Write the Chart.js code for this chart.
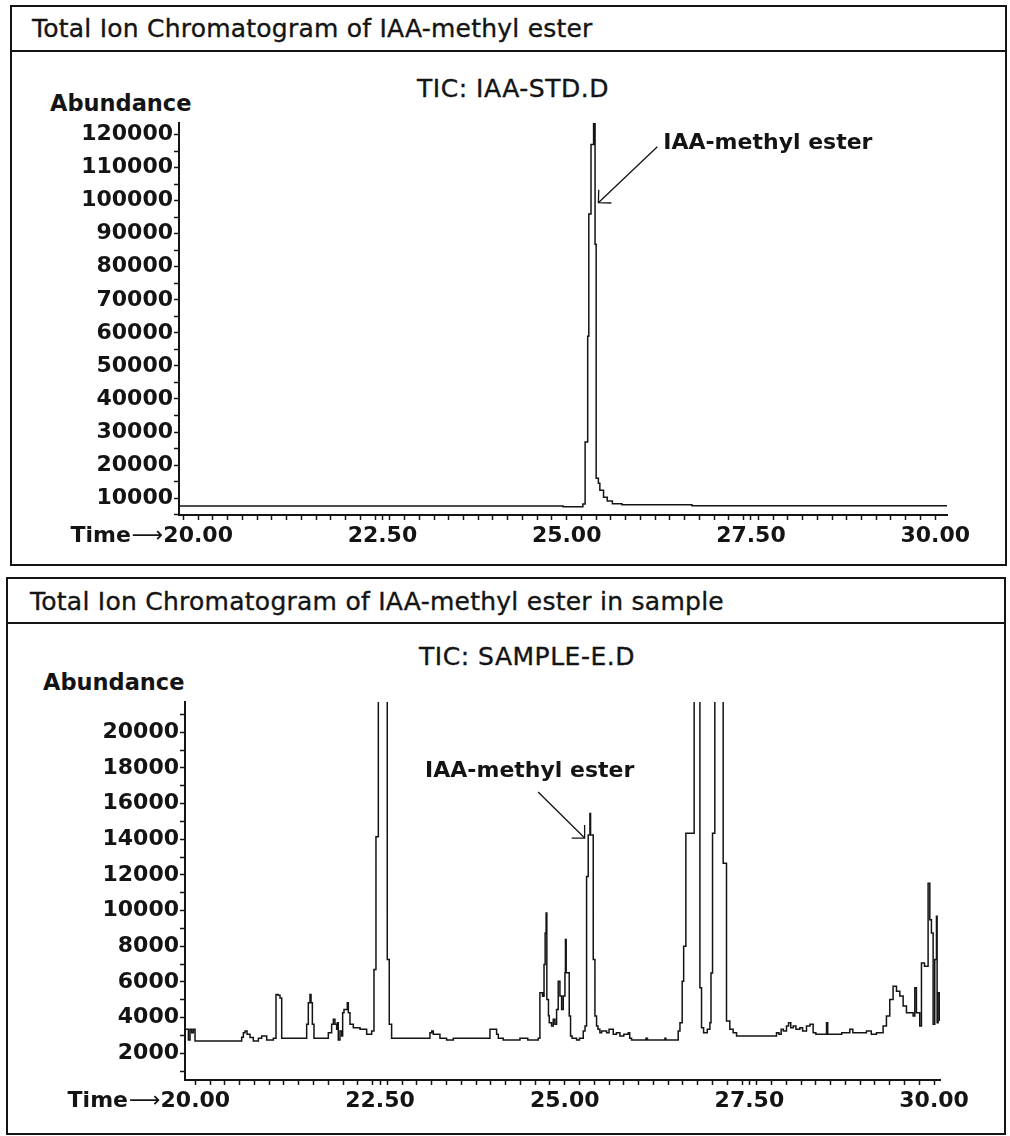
<!DOCTYPE html>
<html><head><meta charset="utf-8">
<script src="https://cdn.jsdelivr.net/npm/chart.js@4/dist/chart.umd.min.js"></script>
<style>
html,body{margin:0;padding:0;background:#fff;}
#page{position:relative;width:1010px;height:1136px;overflow:hidden;background:#fff;}
.panel{position:absolute;box-sizing:border-box;border:2px solid #141414;}
.tbar{position:absolute;left:0;right:0;top:0;box-sizing:border-box;border-bottom:2px solid #141414;}
.txt{position:absolute;white-space:nowrap;color:#141414;line-height:1;font-family:"DejaVu Sans";}
.med{-webkit-text-stroke:0.35px #141414;}
canvas{position:absolute;}
</style></head>
<body><div id="page">
<div class="panel" style="left:10px;top:5px;width:997px;height:561px;"><div class="tbar" style="height:45px"></div></div>
<div class="panel" style="left:6px;top:577px;width:1000px;height:558px;"><div class="tbar" style="height:45px"></div></div>
<div class="txt med" id="t1" style="left:32px;top:16px;font-size:25px;letter-spacing:0.22px;"></div>
<div class="txt med" id="s1" style="left:513px;top:76px;font-size:25px;letter-spacing:0.5px;transform:translateX(-50%);"></div>
<div class="txt" id="a1" style="left:50px;top:92px;font-size:22.5px;font-weight:bold;"></div>
<div class="txt med" id="t2" style="left:30px;top:589px;font-size:25px;letter-spacing:0.25px;"></div>
<div class="txt med" id="s2" style="left:527px;top:644px;font-size:25px;letter-spacing:0.5px;transform:translateX(-50%);"></div>
<div class="txt" id="a2" style="left:43px;top:671px;font-size:22.5px;font-weight:bold;"></div>
<canvas id="c1" width="993" height="512" style="left:12px;top:52px;"></canvas>
<canvas id="c2" width="996" height="510" style="left:8px;top:624px;"></canvas>
</div>
<script>
// ---------- data ----------
const panelTitles = ["Total Ion Chromatogram of IAA-methyl ester", "Total Ion Chromatogram of IAA-methyl ester in sample"];
const ticTitles = ["TIC: IAA-STD.D", "TIC: SAMPLE-E.D"];
const yAxisName = "Abundance";
const xAxisName = "Time";
const peakName = "IAA-methyl ester";

const xLabelValues = [20, 22.5, 25, 27.5, 30];
const stdYLabelValues = [10000,20000,30000,40000,50000,60000,70000,80000,90000,100000,110000,120000];
const sampleYLabelValues = [2000,4000,6000,8000,10000,12000,14000,16000,18000,20000];

// standard (IAA-STD.D): retention time (min) and abundance
const stdTime = [19.74, 24.95, 25.22, 25.25, 25.285, 25.30, 25.33, 25.365, 25.385, 25.40, 25.43, 25.45, 25.50, 25.55, 25.62, 25.75, 26.70, 30.16];
const stdAbund = [7600, 7400, 8200, 27000, 59000, 96000, 117000, 123500, 86800, 16000, 14500, 12400, 10300, 9100, 8300, 8000, 7700, 7700];

// sample (SAMPLE-E.D)
const sampleTime = [19.874,19.906,19.928,19.951,19.973,19.996,20.627,20.650,20.673,20.700,20.740,20.785,20.853,20.898,20.966,21.056,21.092,21.120,21.146,21.169,
 21.507,21.529,21.552,21.566,21.584,21.606,21.800,21.845,21.868,21.890,21.913,21.922,21.935,21.958,21.981,21.994,22.012,22.057,22.071,22.093,22.138,22.229,22.319,22.387,
 22.418,22.445,22.477,22.598,22.625,22.657,23.176,23.200,23.221,23.311,23.401,23.492,23.988,24.078,24.101,24.168,24.394,24.50,24.642,
 24.664,24.700,24.720,24.735,24.748,24.758,24.780,24.791,24.822,24.845,24.867,24.890,24.912,24.935,24.958,24.980,25.003,25.010,25.020,25.061,25.079,25.100,25.161,25.200,25.251,25.275,
 25.296,25.318,25.341,25.350,25.386,25.409,25.431,25.45,25.476,25.50,25.567,25.60,25.657,25.70,25.747,25.80,25.860,25.880,25.905,26.10,26.12,26.356,26.37,
 26.536,26.560,26.590,26.610,26.640,26.752,26.830,26.852,26.880,26.930,26.965,26.980,27.001,27.032,27.145,27.190,27.235,27.280,27.326,
 27.867,27.900,27.930,27.960,28.002,28.030,28.060,28.093,28.130,28.183,28.220,28.273,28.320,28.363,28.400,28.544,28.560,28.75,28.859,28.90,29.085,29.15,29.22,
 29.310,29.355,29.400,29.445,29.491,29.536,29.581,29.626,29.716,29.739,29.761,29.806,29.829,29.870,29.919,29.942,29.964,29.987,30.009,30.032,30.041,30.055,30.077];
const sampleAbund = [3340,2745,3340,3150,3340,2689,2900,3150,3248,3062,2880,2689,2838,2969,2745,2838,5300,5250,5100,2838,
 3621,4832,5298,4832,3621,2838,3155,3621,3901,3621,3342,3714,2745,3248,2969,4273,4460,4832,4273,3621,3435,3342,3062,3248,
 6696,14149,40000,7255,3621,2838,3155,3248,3062,2838,2745,2838,3342,3062,2838,2745,2838,2745,2838,
 5391,5200,6975,8745,9863,5019,4100,3714,3528,3901,3621,4460,6043,5205,4460,5205,6509,8373,6509,4087,2969,2838,2745,2838,3248,3528,
 11913,14242,15453,14242,7255,4087,3528,3342,3155,3248,3155,3342,3062,3155,2969,3062,3155,2838,2745,2838,2745,2838,2745,
 3248,3714,6043,8000,14335,40000,5671,3435,3155,3342,3714,6500,14335,40000,12658,3807,3342,3155,2969,
 3155,3062,3342,3248,3528,3714,3435,3528,3342,3435,3248,3528,3621,3155,3062,3714,3062,3155,3342,3155,3248,3062,3155,
 3528,4087,5019,5764,5484,5205,4646,4273,4087,5671,4273,3528,7068,6882,11540,9491,8745,3621,7255,9677,3714,5391,3807];

// annotation anchors in data space [time, abundance]
const stdLabelAt = [26.31, 117500], stdArrowFrom = [26.23, 116300], stdArrowTo = [25.43, 99400];
const sampleLabelAt = [23.11, 17820], sampleArrowFrom = [24.64, 16650], sampleArrowTo = [25.27, 14070];

// ---------- rendering ----------
const INK = '#141414';
document.getElementById('t1').textContent = panelTitles[0];
document.getElementById('t2').textContent = panelTitles[1];
document.getElementById('s1').textContent = ticTitles[0];
document.getElementById('s2').textContent = ticTitles[1];
document.getElementById('a1').textContent = yAxisName;
document.getElementById('a2').textContent = yAxisName;

const TICK_FONT = {family: 'DejaVu Sans', weight: 'bold', size: 22};
const X_PAD = 3;

const annotPlugin = {
  id: 'annot',
  afterDraw(chart, args, o) {
    const ctx = chart.ctx, xs = chart.scales.x, ys = chart.scales.y;
    ctx.save();
    ctx.fillStyle = INK; ctx.strokeStyle = INK;
    const f = TICK_FONT.size, lh = f * 1.2;
    const yLab = xs.top + 5 + X_PAD + lh / 2;
    ctx.font = 'bold ' + f + 'px "DejaVu Sans"';
    const half = ctx.measureText('20.00').width / 2;
    let xr = xs.getPixelForValue(xLabelValues[0]) - half;
    ctx.textAlign = 'right'; ctx.textBaseline = 'middle';
    ctx.font = f + 'px "DejaVu Sans"';
    const aw = ctx.measureText('\u27F6').width;
    ctx.fillText('\u27F6', xr, yLab);
    ctx.font = 'bold ' + f + 'px "DejaVu Sans"';
    ctx.fillText(xAxisName, xr - aw - 1, yLab);
    ctx.font = 'bold 22px "DejaVu Sans"';
    ctx.textAlign = 'left';
    ctx.fillText(peakName, xs.getPixelForValue(o.labelAt[0]), ys.getPixelForValue(o.labelAt[1]));
    const x0 = xs.getPixelForValue(o.from[0]), y0 = ys.getPixelForValue(o.from[1]);
    const x1 = xs.getPixelForValue(o.to[0]), y1 = ys.getPixelForValue(o.to[1]);
    ctx.lineWidth = 1.3;
    ctx.beginPath(); ctx.moveTo(x0, y0); ctx.lineTo(x1, y1); ctx.stroke();
    const ang = Math.atan2(y0 - y1, x0 - x1), L = 13;
    ctx.beginPath();
    ctx.moveTo(x1 + L * Math.cos(ang - Math.PI / 4), y1 + L * Math.sin(ang - Math.PI / 4));
    ctx.lineTo(x1, y1);
    ctx.lineTo(x1 + L * Math.cos(ang + Math.PI / 4), y1 + L * Math.sin(ang + Math.PI / 4));
    ctx.stroke();
    ctx.restore();
  }
};

function isLabelValue(v, list) { return list.some(l => Math.abs(l - v) < 1e-6); }

// tick positions: minor ticks every `step` inside [lo, hi], plus every labelled value
function tickList(lo, hi, step, labels) {
  const out = [];
  for (let k = Math.ceil(lo / step - 1e-9); k * step <= hi + 1e-9; k++) out.push(Math.round(k * step * 1000) / 1000);
  labels.forEach(v => { if (v >= lo && v <= hi && !out.some(o => Math.abs(o - v) < 1e-6)) out.push(v); });
  return out.sort((a, b) => a - b);
}

function makeChart(id, times, abund, cfg) {
  const pts = times.map((t, i) => ({x: t, y: abund[i]}));
  return new Chart(document.getElementById(id), {
    type: 'line',
    data: {datasets: [{data: pts, borderColor: INK, borderWidth: 1.5, pointRadius: 0, stepped: true, fill: false, tension: 0}]},
    plugins: [annotPlugin],
    options: {
      responsive: false, animation: false, events: [],
      layout: {padding: cfg.padding},
      plugins: {legend: {display: false}, tooltip: {enabled: false}, title: {display: false},
        annot: {labelAt: cfg.labelAt, from: cfg.from, to: cfg.to}},
      scales: {
        x: {
          type: 'linear', min: cfg.xmin, max: cfg.xmax,
          afterBuildTicks: s => { s.ticks = tickList(cfg.xmin, cfg.xmax, 0.2, xLabelValues).map(v => ({value: v})); },
          afterFit: s => { s.height = cfg.xh; },
          border: {display: true, color: INK, width: 2},
          grid: {drawOnChartArea: false, drawTicks: true, tickLength: 5, tickWidth: 1.5, tickColor: INK},
          ticks: {autoSkip: false, maxRotation: 0, minRotation: 0,
            padding: X_PAD, color: INK, font: TICK_FONT,
            callback: v => isLabelValue(v, xLabelValues) ? v.toFixed(2) : ''}
        },
        y: {
          type: 'linear', min: cfg.ymin, max: cfg.ymax,
          afterBuildTicks: s => { s.ticks = tickList(cfg.ymin, cfg.ymax, cfg.ystep, cfg.ylabels).map(v => ({value: v})); },
          afterFit: s => { s.width = cfg.yw; },
          border: {display: true, color: INK, width: 2},
          grid: {drawOnChartArea: false, drawTicks: true, tickLength: 5, tickWidth: 1.5, tickColor: INK},
          ticks: {autoSkip: false,
            padding: 1, color: INK, font: TICK_FONT,
            callback: v => isLabelValue(v, cfg.ylabels) ? String(Math.round(v)) : ''}
        }
      }
    }
  });
}

makeChart('c1', stdTime, stdAbund, {
  padding: {top: 71, right: 58, bottom: 0, left: 0}, yw: 167, xh: 49,
  xmin: 19.74, xmax: 30.16, ymin: 4900, ymax: 123500, ystep: 5000, ylabels: stdYLabelValues,
  labelAt: stdLabelAt, from: stdArrowFrom, to: stdArrowTo
});
makeChart('c2', sampleTime, sampleAbund, {
  padding: {top: 78, right: 64, bottom: 0, left: 0}, yw: 177, xh: 54,
  xmin: 19.86, xmax: 30.08, ymin: 500, ymax: 21700, ystep: 1000, ylabels: sampleYLabelValues,
  labelAt: sampleLabelAt, from: sampleArrowFrom, to: sampleArrowTo
});
</script>
</body></html>
